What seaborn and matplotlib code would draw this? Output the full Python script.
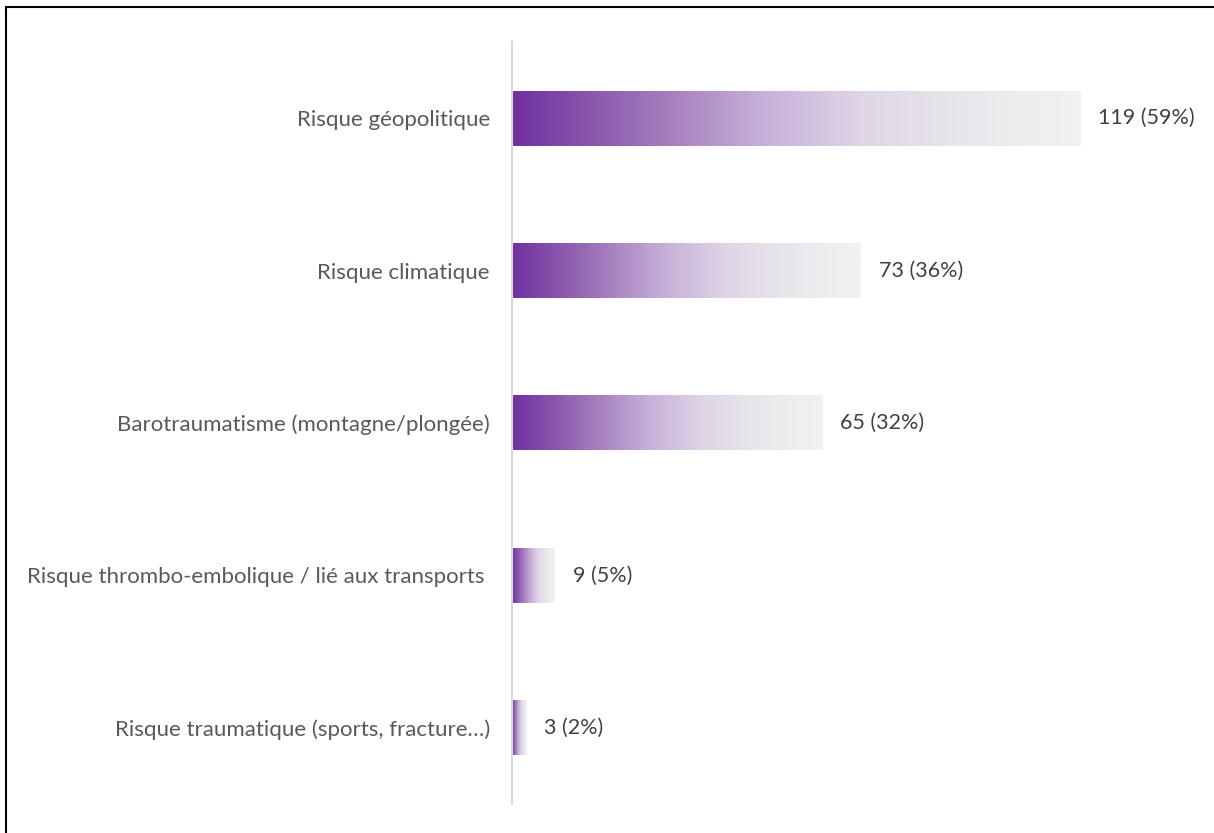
import matplotlib
matplotlib.use("Agg")
import matplotlib.pyplot as plt
import seaborn as sns
import numpy as np
import pandas as pd
from matplotlib.colors import LinearSegmentedColormap
from matplotlib.lines import Line2D

categories = [
    "Risque géopolitique",
    "Risque climatique",
    "Barotraumatisme (montagne/plongée)",
    "Risque thrombo-embolique / lié aux transports ",
    "Risque traumatique (sports, fracture…)",
]
counts = [119, 73, 65, 9, 3]
percents = ["59%", "36%", "32%", "5%", "2%"]

df = pd.DataFrame({"categorie": categories, "n": counts})

sns.set_theme(style="white")
plt.rcParams["font.family"] = ["Lato", "DejaVu Sans"]

fig = plt.figure(figsize=(12.14, 8.33), dpi=100)
ax = fig.add_axes([512 / 1214, 1 - 804 / 833, 678 / 1214, (804 - 42) / 833])

sns.barplot(data=df, x="n", y="categorie", orient="h", width=0.36,
            color="#7030A0", ax=ax, linewidth=0)

grad = LinearSegmentedColormap.from_list(
    "grad",
    [(0.0, (112/255, 48/255, 160/255)),
     (0.19, (148/255, 102/255, 178/255)),
     (0.44, (198/255, 176/255, 216/255)),
     (0.62, (224/255, 214/255, 230/255)),
     (0.80, (233/255, 231/255, 236/255)),
     (1.0, (242/255, 242/255, 242/255))])
g = np.linspace(0, 1, 256).reshape(1, -1)

for p in ax.patches:
    x0, y0, w, h = p.get_x(), p.get_y(), p.get_width(), p.get_height()
    p.set_facecolor("none")
    ax.imshow(g, cmap=grad, aspect="auto", extent=(x0, x0 + w, y0 + h, y0),
              interpolation="bilinear", zorder=2)

for i, (n, pc) in enumerate(zip(counts, percents)):
    ax.annotate(f"{n} ({pc})", xy=(n, i), xytext=(13, 0), textcoords="offset points",
                ha="left", va="center", fontsize=15.5, color="#404040")

ax.set_xlim(0, 142)
ax.set_ylim(4.5, -0.5)
ax.set_xlabel("")
ax.set_ylabel("")
ax.set_xticks([])
ax.tick_params(axis="y", length=0, pad=16, labelsize=16, labelcolor="#595959")
for s in ["top", "right", "bottom"]:
    ax.spines[s].set_visible(False)
ax.spines["left"].set_color("#D9D9D9")
ax.spines["left"].set_linewidth(1.5)
ax.spines["left"].set_zorder(3)

# frame lines (top and left)
fig.add_artist(Line2D([6 / 1214, 1], [1 - 7 / 833, 1 - 7 / 833], color="black", lw=1.5,
                      transform=fig.transFigure))
fig.add_artist(Line2D([6 / 1214, 6 / 1214], [0, 1 - 7 / 833], color="black", lw=1.5,
                      transform=fig.transFigure))

fig.savefig("out.png", dpi=100, facecolor="white")
